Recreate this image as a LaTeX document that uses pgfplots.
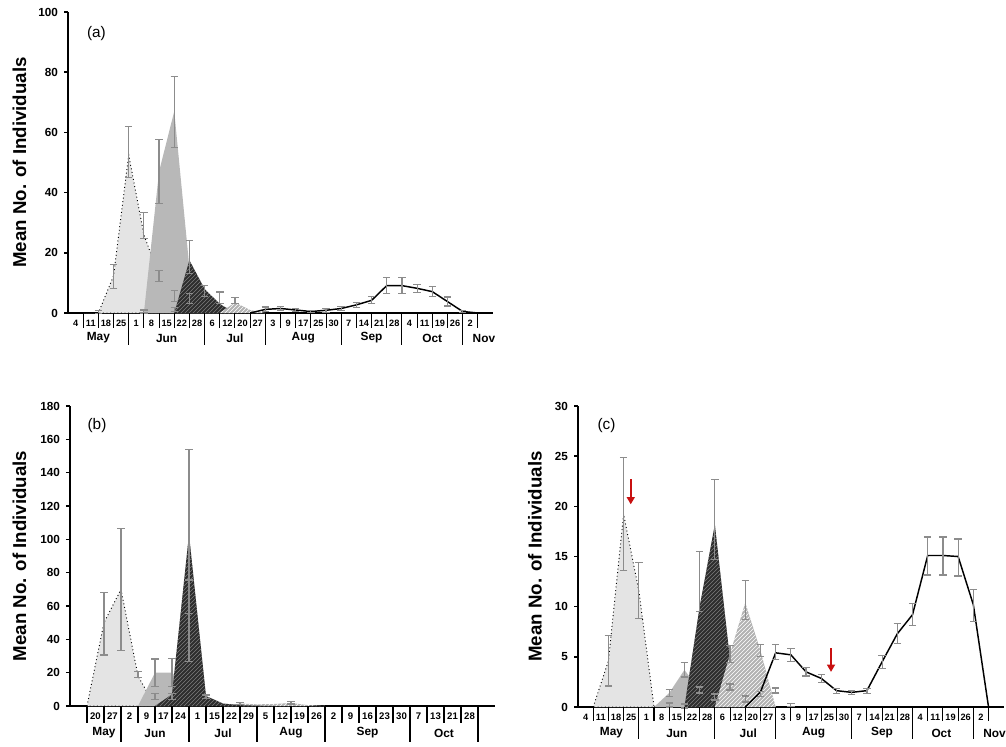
\documentclass[border=0pt]{standalone}
\usepackage{fontspec}
\setmainfont{Liberation Sans}
\usepackage{pgfplots}
\pgfplotsset{compat=1.18}
\usetikzlibrary{patterns,arrows.meta}

\definecolor{lightfill}{RGB}{228,228,228}
\definecolor{midfill}{RGB}{184,184,184}
\definecolor{darkfill}{RGB}{45,45,45}
\definecolor{darkhatch}{RGB}{125,125,125}
\definecolor{hatchfill}{RGB}{178,178,178}
\definecolor{errgray}{RGB}{140,140,140}
\definecolor{arrowred}{RGB}{200,16,16}

\newcommand{\myfs}[1]{\fontsize{#1}{#1}\selectfont}

\tikzset{
  sep/.style={line width=0.8pt, black},
  month/.style={font=\myfs{8.9pt}\bfseries},
}

\pgfplotsset{
  panel/.style={
    scale only axis,
    width=318.75pt,
    height=225.75pt,
    axis lines=left,
    axis line style={line width=1.5pt, -},
    clip=false,
    ymin=0,
    tick align=outside,
    major tick length=3pt,
    ytick style={line width=1.1pt, black},
    xtick style={draw=none},
    /pgf/number format/assume math mode=true,
    yticklabel style={font=\myfs{8.8pt}\bfseries, xshift=-1pt},
    xticklabel style={font=\myfs{6.9pt}\bfseries, anchor=center, yshift=-4.5pt},
    ylabel={Mean No. of Individuals},
  },
  lightarea/.style={fill=lightfill, draw=black, dotted, line width=0.7pt},
  midarea/.style={fill=midfill, draw=none},
  darkarea/.style={fill=darkfill, draw=none,
    postaction={pattern=north east lines, pattern color=darkhatch}},
  hatcharea/.style={fill=hatchfill, draw=none,
    postaction={pattern=north east lines, pattern color=white}},
  blackline/.style={black, line width=1.1pt, mark=none},
  errs/.style={draw=none, mark=none, forget plot,
    error bars/.cd, y dir=both, y explicit,
    error bar style={draw=errgray, line width=0.9pt, solid},
    error mark options={rotate=90, draw=errgray, line width=0.9pt, mark size=2.8pt, solid}},
}

\begin{document}
\begin{tikzpicture}
\useasboundingbox (0,0) rectangle (754.5pt,-559.5pt);

% ---------------- (a)
\begin{axis}[panel,
  at={(51pt,-234.75pt)}, anchor=south west,
  xmin=0, xmax=28, ymax=100,
  ytick={0,20,...,100},
  xtick={0.5,1.5,...,26.5},
  xticklabels={4,11,18,25,1,8,15,22,28,6,12,20,27,3,9,17,25,30,7,14,21,28,4,11,19,26,2},
  ylabel style={font=\myfs{14pt}\bfseries, at={(axis description cs:-0.114,0.5)}, anchor=center},
]
\addplot[lightarea] coordinates {(1,0) (2,0) (3,12.3) (4,52.5) (5,26) (6,12.3) (7,5.7) (8,4.9) (9,1) (10,0)} \closedcycle;
\addplot[midarea] coordinates {(5,0) (6,47) (7,67) (8,15) (9,4) (10,1) (11,0)} \closedcycle;
\addplot[darkarea] coordinates {(7,0) (8,17.5) (9,8) (10,3) (11,0)} \closedcycle;
\addplot[hatcharea] coordinates {(10,0) (11,3.5) (12,1) (13,0)} \closedcycle;
\addplot[blackline] coordinates {(12,0) (13,1.2) (14,1.5) (15,1.0) (16,0.5) (17,0.9) (18,1.5) (19,2.7) (20,4.2) (21,9.1) (22,9.1) (23,8.2) (24,7.1) (25,3.8) (26,0.5) (27,0)};
\addplot[errs] coordinates {
  (2,0.3) +- (0,0.4) (3,12.2) +- (0,4) (4,53.5) +- (0,8.4) (5,29.1) +- (0,4.3)
  (6,12.3) +- (0,1.9) (7,5.7) +- (0,1.9) (8,4.9) +- (0,1.7) (5,0.5) +- (0,0.5)
  (6,47.1) +- (0,10.6) (7,66.8) +- (0,11.9) (7,1.2) +- (0,0.6)
  (8,18.6) +- (0,5.4) (9,7.3) +- (0,1.9) (10,5.1) +- (0,1.9) (11,4.1) +- (0,1)
  (13,1.2) +- (0,0.8) (14,1.5) +- (0,0.7) (15,1.0) +- (0,0.6) (16,0.5) +- (0,0.4)
  (17,0.9) +- (0,0.6) (18,1.5) +- (0,0.6) (19,2.7) +- (0,0.8) (20,4.3) +- (0,1.1)
  (21,9.2) +- (0,2.7) (22,9.2) +- (0,2.7) (23,8.25) +- (0,1.35) (24,7.15) +- (0,1.55)
  (25,3.8) +- (0,1.5) (26,0.5) +- (0,0.3)
};
\pgfplotsinvokeforeach{1,2,3,5,6,7,8,10,11,12,14,15,16,17,19,20,21,23,24,25,27}{
  \draw[sep] (axis cs:#1,0) -- ++(0,-11.25pt);
}
\pgfplotsinvokeforeach{4,9,13,18,22,26}{
  \draw[sep] (axis cs:#1,0) -- ++(0,-24pt);
}
\node[month] at (axis cs:2,0) [yshift=-18.75pt] {May};
\node[month] at (axis cs:6.5,0) [yshift=-18.75pt] {Jun};
\node[month] at (axis cs:11,0) [yshift=-18.75pt] {Jul};
\node[month] at (axis cs:15.5,0) [yshift=-18.75pt] {Aug};
\node[month] at (axis cs:20,0) [yshift=-18.75pt] {Sep};
\node[month] at (axis cs:24,0) [yshift=-18.75pt] {Oct};
\node[month] at (axis cs:27.4,0) [yshift=-18.75pt] {Nov};
\node[font=\myfs{11.5pt}] at (rel axis cs:0.067,0.929) {(a)};
\end{axis}

% ---------------- (b)
\begin{axis}[panel,
  at={(52.5pt,-529.5pt)}, anchor=south west, height=225pt,
  xmin=0, xmax=25, ymax=180,
  ytick={0,20,...,180},
  xtick={1.5,2.5,...,23.5},
  xticklabels={20,27,2,9,17,24,1,15,22,29,5,12,19,26,2,9,16,23,30,7,13,21,28},
  xticklabel style={font=\myfs{7.2pt}\bfseries},
  ylabel style={font=\myfs{14pt}\bfseries, at={(axis description cs:-0.119,0.5)}, anchor=center},
]
\addplot[lightarea] coordinates {(1,0) (2,50) (3,70) (4,18) (5,0)} \closedcycle;
\addplot[midarea] coordinates {(4,0) (5,20) (6,20) (7,10) (8,0)} \closedcycle;
\addplot[hatcharea] coordinates {(9,0) (10,1.5) (11,1) (12,1.2) (13,1.8) (14,0.5) (15,0)} \closedcycle;
\addplot[darkarea] coordinates {(5,0) (6,7) (7,103) (8,6) (9,1.5) (10,0.5) (11,0.2) (12,0)} \closedcycle;
\addplot[errs] coordinates {
  (2,49.3) +- (0,18.7) (3,69.9) +- (0,36.7) (4,18.8) +- (0,1.8)
  (5,19.9) +- (0,8.3) (6,20) +- (0,8.5) (5,5.8) +- (0,1.8) (6,5.8) +- (0,1.8)
  (7,90.3) +- (0,63.7) (7,65.6) +- (0,10) (8,5.6) +- (0,1)
  (10,1.6) +- (0,0.5) (13,2) +- (0,0.8)
};
\pgfplotsinvokeforeach{1,2,4,5,6,8,9,10,12,13,14,16,17,18,19,21,22,23}{
  \draw[sep] (axis cs:#1,0) -- ++(0,-12.5pt);
}
\pgfplotsinvokeforeach{3,7,11,15,20,24}{
  \draw[sep] (axis cs:#1,0) -- ++(0,-27pt);
}
\node[month] at (axis cs:2,0) [yshift=-20.25pt] {May};
\node[month] at (axis cs:5,0) [yshift=-20.25pt] {Jun};
\node[month] at (axis cs:9,0) [yshift=-20.25pt] {Jul};
\node[month] at (axis cs:13,0) [yshift=-20.25pt] {Aug};
\node[month] at (axis cs:17.5,0) [yshift=-20.25pt] {Sep};
\node[month] at (axis cs:22,0) [yshift=-20.25pt] {Oct};
\node[font=\myfs{11.5pt}] at (rel axis cs:0.0635,0.934) {(b)};
\end{axis}

% ---------------- (c)
\begin{axis}[panel,
  at={(433.5pt,-530.25pt)}, anchor=south west, width=319.3pt,
  xmin=0, xmax=28, ymax=30,
  ytick={0,5,...,30},
  xtick={0.5,1.5,...,26.5},
  xticklabels={4,11,18,25,1,8,15,22,28,6,12,20,27,3,9,17,25,30,7,14,21,28,4,11,19,26,2},
  ylabel style={font=\myfs{14pt}\bfseries, at={(axis description cs:-0.101,0.5)}, anchor=center},
]
\addplot[lightarea] coordinates {(1,0) (2,4.6) (3,19.2) (4,11.6) (5,0)} \closedcycle;
\addplot[midarea] coordinates {(5,0) (6,1.4) (7,3.7) (8,1.7) (9,1) (10,0)} \closedcycle;
\addplot[darkarea] coordinates {(7,0) (8,10) (9,18.2) (10,4.7) (11,0)} \closedcycle;
\addplot[hatcharea] coordinates {(9,0) (10,5.3) (11,10.4) (12,5.6) (13,0)} \closedcycle;
\addplot[blackline] coordinates {(11,0) (12,1.5) (13,5.4) (14,5.2) (15,3.5) (16,2.85) (17,1.63) (18,1.46) (19,1.63) (20,4.5) (21,7.3) (22,9.2) (23,15.1) (24,15.1) (25,15) (26,10.2) (27,0)};
\addplot[errs] coordinates {
  (2,4.6) +- (0,2.5) (3,19.25) +- (0,5.65) (4,11.6) +- (0,2.8)
  (6,1.4) +- (0,0.35) (7,3.7) +- (0,0.7) (6,0.2) +- (0,0.2) (7,0.1) +- (0,0.2)
  (8,12.5) +- (0,3) (9,18.7) +- (0,4) (8,1.7) +- (0,0.3) (9,1.0) +- (0,0.3)
  (10,5.3) +- (0,0.85) (10,2.0) +- (0,0.3) (11,10.65) +- (0,1.95) (11,0.8) +- (0,0.3)
  (12,5.6) +- (0,0.6) (12,1.3) +- (0,0.25) (13,5.45) +- (0,0.75) (13,1.65) +- (0,0.25)
  (14,5.15) +- (0,0.65) (14,0.2) +- (0,0.15) (15,3.5) +- (0,0.4) (16,2.85) +- (0,0.4)
  (17,1.63) +- (0,0.25) (18,1.46) +- (0,0.2) (19,1.63) +- (0,0.25) (20,4.5) +- (0,0.65)
  (21,7.3) +- (0,1.0) (22,9.2) +- (0,1.1) (23,15.05) +- (0,1.9) (24,15.05) +- (0,1.9)
  (25,14.9) +- (0,1.85) (26,10.1) +- (0,1.6)
};
\pgfplotsinvokeforeach{1,2,3,5,6,7,8,10,11,12,14,15,16,17,19,20,21,23,24,25,27}{
  \draw[sep] (axis cs:#1,0) -- ++(0,-11.25pt);
}
\pgfplotsinvokeforeach{4,9,13,18,22,26}{
  \draw[sep] (axis cs:#1,0) -- ++(0,-24.75pt);
}
\node[month] at (axis cs:2.2,0) [yshift=-19.5pt] {May};
\node[month] at (axis cs:6.5,0) [yshift=-19.5pt] {Jun};
\node[month] at (axis cs:11.2,0) [yshift=-19.5pt] {Jul};
\node[month] at (axis cs:15.5,0) [yshift=-19.5pt] {Aug};
\node[month] at (axis cs:20,0) [yshift=-19.5pt] {Sep};
\node[month] at (axis cs:23.9,0) [yshift=-19.5pt] {Oct};
\node[month] at (axis cs:27.4,0) [yshift=-19.5pt] {Nov};
\node[font=\myfs{11.5pt}] at (rel axis cs:0.067,0.934) {(c)};
\draw[arrowred, line width=1.3pt, -{Triangle[length=5.5pt, width=6pt]}] (axis cs:3.47,22.7) -- (axis cs:3.47,20.2);
\draw[arrowred, line width=1.3pt, -{Triangle[length=5.5pt, width=6pt]}] (axis cs:16.64,5.85) -- (axis cs:16.64,3.5);
\end{axis}
\end{tikzpicture}
\end{document}
